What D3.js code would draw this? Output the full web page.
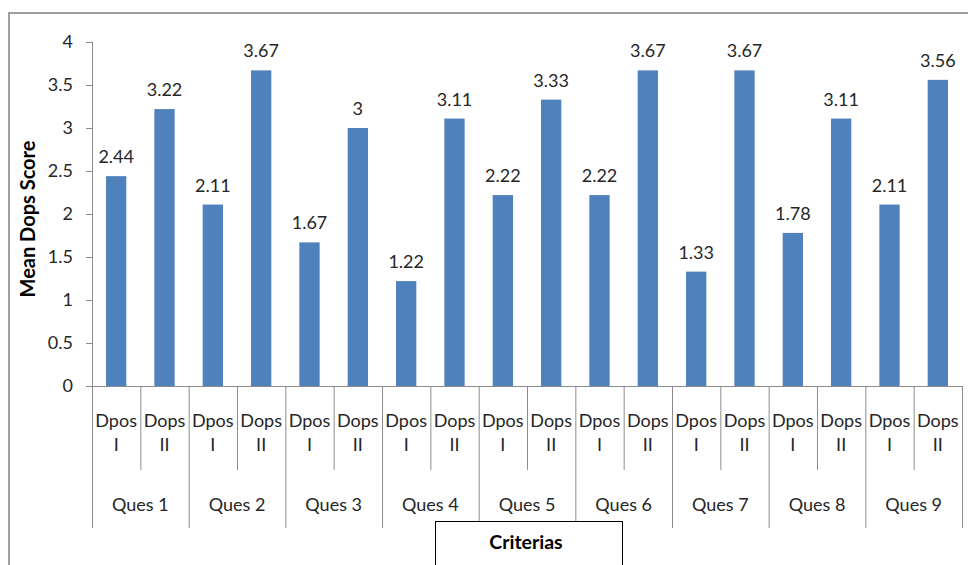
<!DOCTYPE html>
<html>
<head>
<meta charset="utf-8">
<script src="https://cdn.jsdelivr.net/npm/d3@7/dist/d3.min.js"></script>
<style>
  html, body { margin: 0; padding: 0; background: #fff; }
  svg { display: block; }
</style>
</head>
<body>
<svg id="chart" width="968" height="565"></svg>
<script>
const groups = ["Ques 1","Ques 2","Ques 3","Ques 4","Ques 5","Ques 6","Ques 7","Ques 8","Ques 9"];
const subs = [["Dpos","I"],["Dops","II"]];
const dposI = [2.44, 2.11, 1.67, 1.22, 2.22, 2.22, 1.33, 1.78, 2.11];
const dopsII = [3.22, 3.67, 3, 3.11, 3.33, 3.67, 3.67, 3.11, 3.56];
const yTicks = [0, 0.5, 1, 1.5, 2, 2.5, 3, 3.5, 4];
const yTitle = "Mean Dops Score";
const xTitle = "Criterias";

(function () {
const svg = d3.select("#chart");
const font = "Lato, 'Liberation Sans', Arial, sans-serif";
const axisColor = "#8c8c8c";
const txt = "#262626";

// outer border
svg.append("rect").attr("x", 9).attr("y", 13).attr("width", 970).attr("height", 570)
  .attr("fill", "none").attr("stroke", "#808080").attr("stroke-width", 1.5);

const pLeft = 92, pRight = 962, pTop = 42, pBottom = 386;
const y = d3.scaleLinear().domain([0, 4]).range([pBottom, pTop]);
const x0 = d3.scaleBand().domain(groups).range([pLeft, pRight]).paddingInner(0).paddingOuter(0);
const x1 = d3.scaleBand().domain([0, 1]).range([0, x0.bandwidth()]).paddingInner(0.58).paddingOuter(0.29);
const xs = d3.scaleBand().domain([0, 1]).range([0, x0.bandwidth()]);

const data = groups.map((g, i) => ({ g, vals: [dposI[i], dopsII[i]] }));

// bars
const gg = svg.append("g").selectAll("g").data(data).join("g")
  .attr("transform", d => `translate(${x0(d.g)},0)`);
gg.selectAll("rect").data(d => d.vals.map((v, k) => ({ v, k }))).join("rect")
  .attr("x", d => x1(d.k)).attr("width", x1.bandwidth())
  .attr("y", d => y(d.v)).attr("height", d => y(0) - y(d.v))
  .attr("fill", "#4f81bd");
gg.selectAll("text.val").data(d => d.vals.map((v, k) => ({ v, k }))).join("text")
  .attr("class", "val")
  .attr("x", d => x1(d.k) + x1.bandwidth() / 2)
  .attr("y", d => y(d.v) - 13)
  .attr("text-anchor", "middle")
  .attr("font-family", font).attr("font-size", 18).attr("fill", txt)
  .text(d => String(d.v));

// y axis
const yAxis = svg.append("g").attr("transform", `translate(${pLeft},0)`)
  .call(d3.axisLeft(y).tickValues(yTicks).tickSize(6).tickPadding(13).tickFormat(d => String(d)));
yAxis.select(".domain").attr("stroke", axisColor).attr("d", `M-0.5,${pTop}H0.5V${pBottom}`);
yAxis.selectAll(".tick line").attr("stroke", axisColor);
yAxis.selectAll(".tick text").attr("font-family", font).attr("font-size", 18).attr("fill", txt);

// x axis base line
svg.append("line").attr("x1", pLeft).attr("x2", pRight).attr("y1", pBottom + 0.5).attr("y2", pBottom + 0.5)
  .attr("stroke", axisColor);

// separators + labels
const xa = svg.append("g");
groups.forEach((g, i) => {
  const gx = x0(g);
  xa.append("line").attr("x1", gx + 0.5).attr("x2", gx + 0.5).attr("y1", pBottom).attr("y2", 528)
    .attr("stroke", axisColor);
  const mx = gx + xs(1);
  xa.append("line").attr("x1", mx + 0.5).attr("x2", mx + 0.5).attr("y1", pBottom).attr("y2", 470)
    .attr("stroke", axisColor);
  subs.forEach((s, k) => {
    const cx = gx + xs(k) + xs.bandwidth() / 2;
    xa.append("text").attr("x", cx).attr("y", 427).attr("text-anchor", "middle")
      .attr("font-family", font).attr("font-size", 18).attr("fill", txt).text(s[0]);
    xa.append("text").attr("x", cx).attr("y", 451).attr("text-anchor", "middle")
      .attr("font-family", font).attr("font-size", 18).attr("fill", txt).text(s[1]);
  });
  xa.append("text").attr("x", gx + x0.bandwidth() / 2).attr("y", 511).attr("text-anchor", "middle")
    .attr("font-family", font).attr("font-size", 18).attr("fill", txt).text(g);
});
xa.append("line").attr("x1", pRight + 0.5).attr("x2", pRight + 0.5).attr("y1", pBottom).attr("y2", 528)
  .attr("stroke", axisColor);

// y title
svg.append("text").attr("transform", `translate(35,219) rotate(-90)`)
  .attr("text-anchor", "middle").attr("font-family", font).attr("font-weight", "bold")
  .attr("font-size", 20).attr("fill", "#000").text(yTitle);

// x title box
svg.append("rect").attr("x", 435.5).attr("y", 521.5).attr("width", 187).attr("height", 60)
  .attr("fill", "#fff").attr("stroke", "#000").attr("stroke-width", 1);
svg.append("text").attr("x", 526).attr("y", 549).attr("text-anchor", "middle")
  .attr("font-family", font).attr("font-weight", "bold").attr("font-size", 19.5).attr("fill", "#000")
  .text(xTitle);
})();
</script>
</body>
</html>
